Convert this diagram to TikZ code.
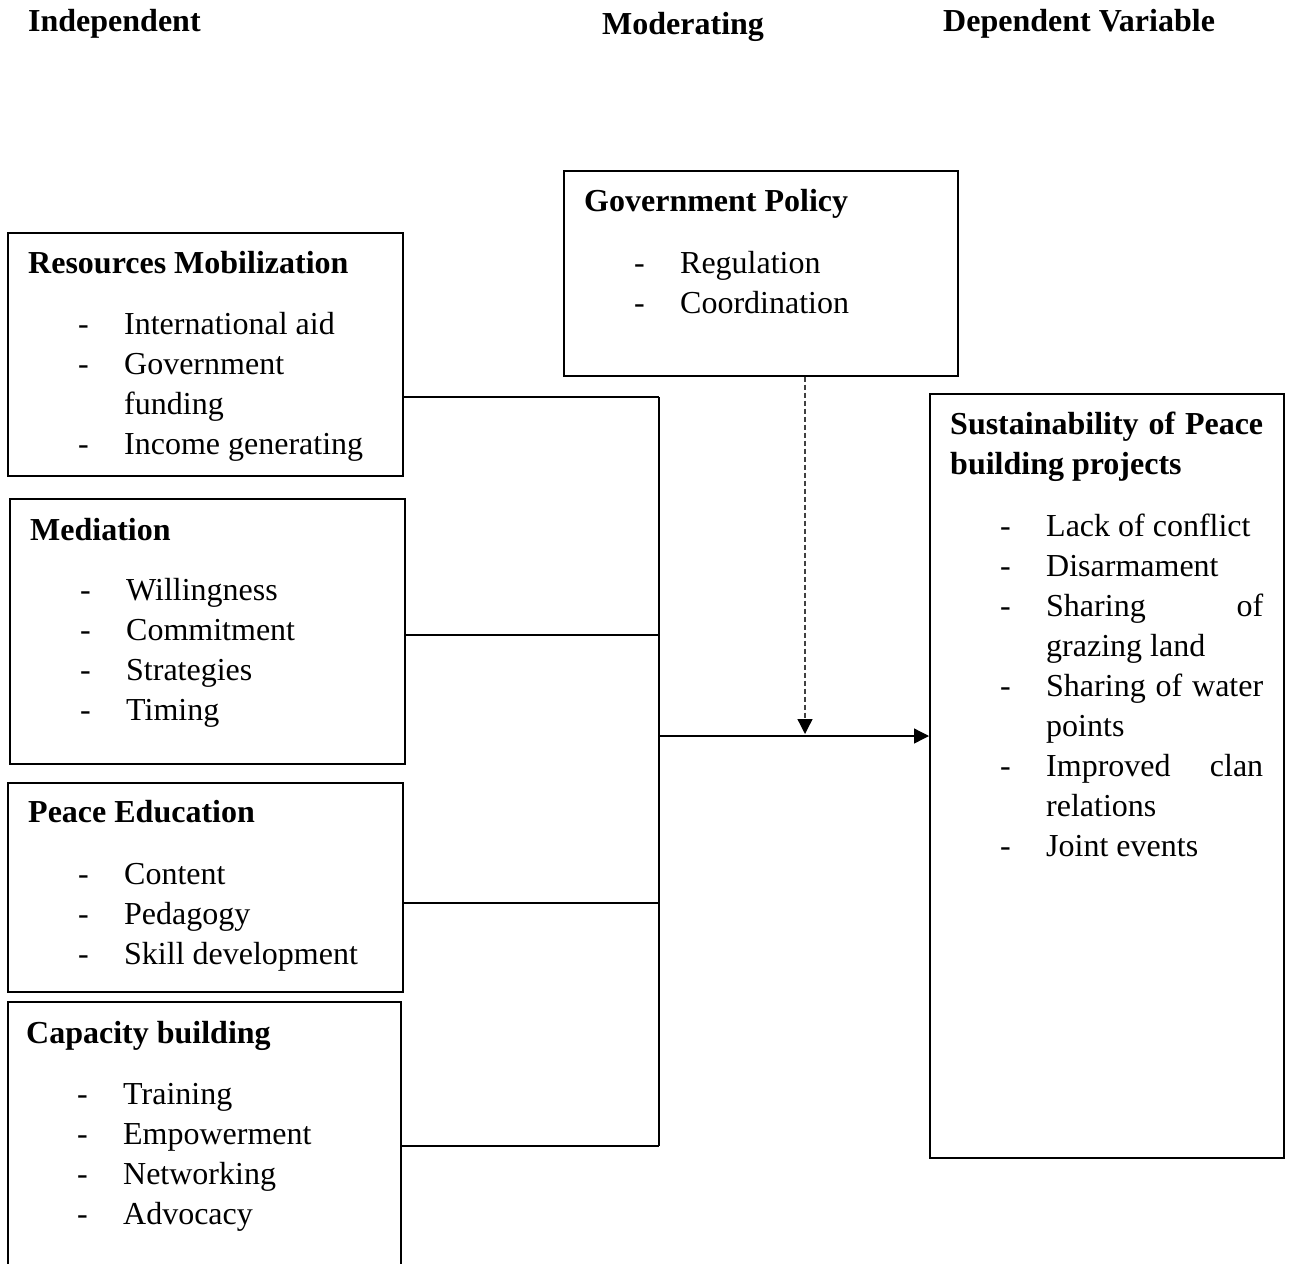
\documentclass[tikz,border=0pt]{standalone}
\usepackage{fontspec}
\setmainfont{Liberation Serif}
\usetikzlibrary{arrows.meta}
\begin{document}
\begin{tikzpicture}[x=1pt,y=-1pt,
  box/.style={draw,line width=1.6pt,anchor=north west,inner sep=0pt},
  txt/.style={anchor=base west,inner sep=0pt,font=\fontsize{32}{40}\selectfont},
  ttl/.style={txt,font=\fontsize{32}{40}\selectfont\bfseries},
  conn/.style={line width=1.3pt},
  tip/.style={-{Triangle[length=15pt,width=15pt,color=black]}}]
\clip (0,0) rectangle (1289,1263);
\useasboundingbox (0,0) rectangle (1289,1263);
\newcommand{\bl}[1]{\makebox[46pt][l]{-}#1}
% headers
\node[ttl] (h1) at (28,32) {Independent};
\node[ttl] (h2) at (602,35) {Moderating};
\node[ttl] (h3) at (943,32) {Dependent Variable};
% boxes
\node[box,minimum width=395pt,minimum height=243pt] (res) at (7,232) {};
\node[box,minimum width=395pt,minimum height=265pt] (med) at (9,498) {};
\node[box,minimum width=395pt,minimum height=209pt] (ped) at (7,782) {};
\node[box,minimum width=393pt,minimum height=300pt] (cap) at (7,1001) {};
\node[box,minimum width=394pt,minimum height=205pt] (gov) at (563,170) {};
\node[box,minimum width=354pt,minimum height=764pt] (sus) at (929,393) {};
% Resources Mobilization
\node[ttl] (rt) at (28,273) {Resources Mobilization};
\node[txt] (r1) at (78,334) {\bl{International aid}};
\node[txt] (r2) at (78,374) {\bl{Government}};
\node[txt] (r3) at (124,414) {funding};
\node[txt] (r4) at (78,454) {\bl{Income generating}};
% Mediation
\node[ttl] (mt) at (30,540) {Mediation};
\node[txt] (m1) at (80,600) {\bl{Willingness}};
\node[txt] (m2) at (80,640) {\bl{Commitment}};
\node[txt] (m3) at (80,680) {\bl{Strategies}};
\node[txt] (m4) at (80,720) {\bl{Timing}};
% Peace Education
\node[ttl] (pt) at (28,822) {Peace Education};
\node[txt] (p1) at (78,884) {\bl{Content}};
\node[txt] (p2) at (78,924) {\bl{Pedagogy}};
\node[txt] (p3) at (78,964) {\bl{Skill development}};
% Capacity building
\node[ttl] (ct) at (26,1043) {Capacity building};
\node[txt] (c1t) at (77,1104) {\bl{Training}};
\node[txt] (c2t) at (77,1144) {\bl{Empowerment}};
\node[txt] (c3t) at (77,1184) {\bl{Networking}};
\node[txt] (c4t) at (77,1224) {\bl{Advocacy}};
% Government Policy
\node[ttl] (gt) at (584,211) {Government Policy};
\node[txt] (g1) at (634,273) {\bl{Regulation}};
\node[txt] (g2) at (634,313) {\bl{Coordination}};
% Sustainability
\node[ttl] (st1) at (950,434) {\hbox to 313pt{Sustainability of Peace}};
\node[ttl] (st2) at (950,474) {building projects};
\node[txt] (s1) at (1000,536) {\bl{Lack of conflict}};
\node[txt] (s2) at (1000,576) {\bl{Disarmament}};
\node[txt] (s3) at (1000,616) {\bl{\hbox to 217pt{Sharing\hfill of}}};
\node[txt] (s4) at (1046,656) {grazing land};
\node[txt] (s5) at (1000,696) {\bl{\hbox to 217pt{Sharing of water}}};
\node[txt] (s6) at (1046,736) {points};
\node[txt] (s7) at (1000,776) {\bl{\hbox to 217pt{Improved\hfill clan}}};
\node[txt] (s8) at (1046,816) {relations};
\node[txt] (s9) at (1000,856) {\bl{Joint events}};
% connectors
\coordinate (j1) at (659,397);
\coordinate (j2) at (659,635);
\coordinate (j3) at (659,903);
\coordinate (j4) at (659,1146);
\coordinate (hub) at (659,736);
\coordinate (dm) at (805,734);
\draw[conn] (res.east |- j1) -- (j1);
\draw[conn] (med.east |- j2) -- (j2);
\draw[conn] (ped.east |- j3) -- (j3);
\draw[conn] (cap.east |- j4) -- (j4);
\draw[conn] (j1) -- (j4);
\draw[conn,tip] (hub) -- (sus.west |- hub);
\draw[line width=1.3pt,draw=black!75,dash pattern=on 5pt off 3pt,tip] (gov.south -| dm) -- (dm);
\end{tikzpicture}
\end{document}
